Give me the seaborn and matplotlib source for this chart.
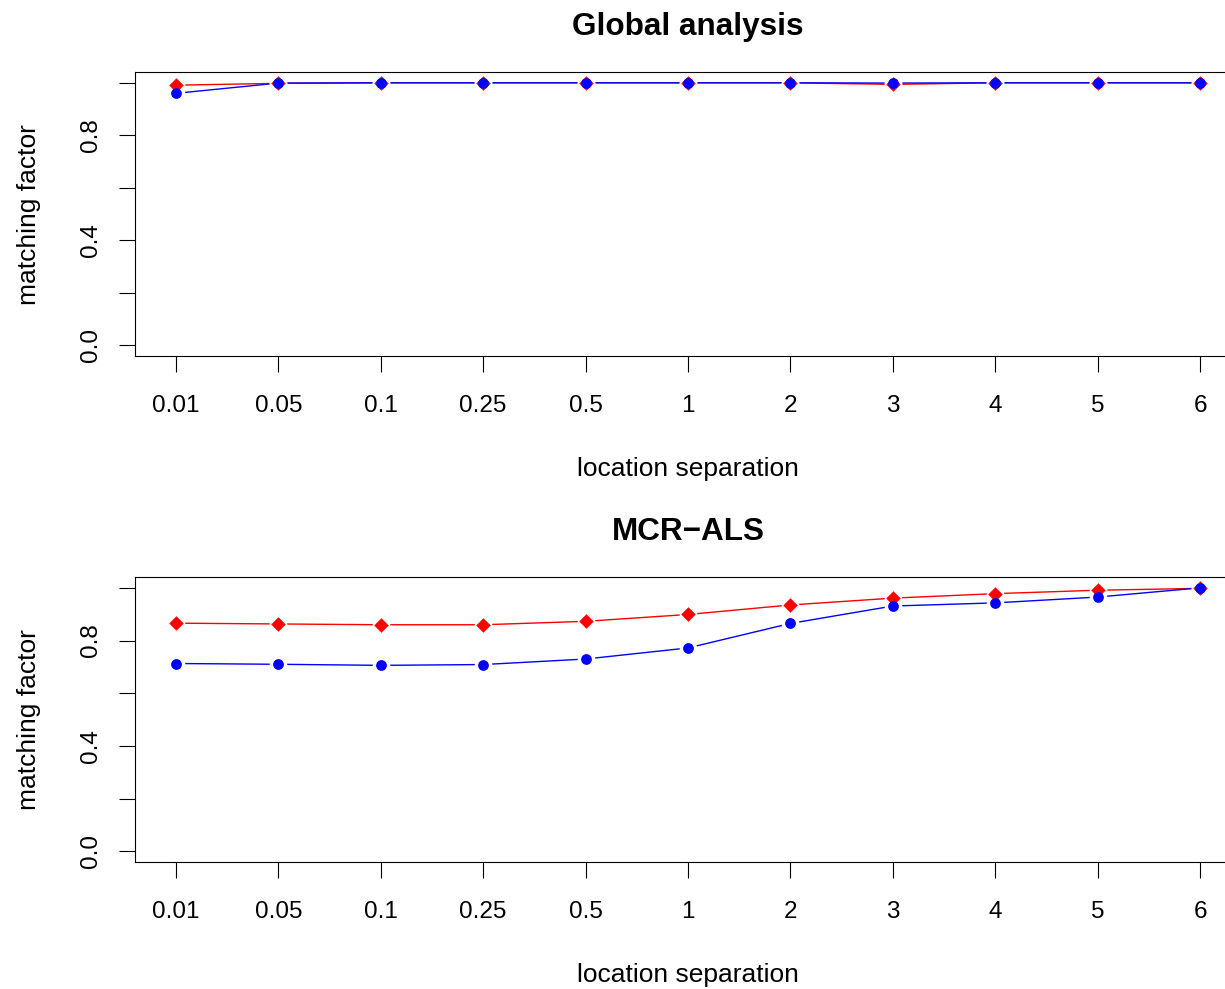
import matplotlib
matplotlib.use("Agg")
import matplotlib.pyplot as plt
import seaborn as sns
import pandas as pd

# location separations (categorical x axis)
separations = ["0.01", "0.05", "0.1", "0.25", "0.5", "1", "2", "3", "4", "5", "6"]

# matching factors, global analysis
global_red = [0.991, 0.998, 1.000, 1.000, 1.000, 1.000, 1.000, 0.994, 1.000, 1.000, 1.000]
global_blue = [0.960, 0.999, 1.000, 1.000, 1.000, 1.000, 1.000, 0.999, 1.000, 1.000, 1.000]

# matching factors, MCR-ALS
mcr_red = [0.866, 0.863, 0.860, 0.860, 0.873, 0.899, 0.935, 0.961, 0.978, 0.991, 0.998]
mcr_blue = [0.713, 0.710, 0.706, 0.709, 0.730, 0.772, 0.865, 0.931, 0.943, 0.965, 1.000]

panel_titles = ["Global analysis", "MCR\u2212ALS"]
y_ticks = [0.0, 0.2, 0.4, 0.6, 0.8, 1.0]
y_ticklabels = ["0.0", "", "0.4", "", "0.8", ""]

sns.set_theme(style="ticks")
plt.rcParams["font.family"] = ["Liberation Sans", "DejaVu Sans"]
plt.rcParams["axes.linewidth"] = 0.8
plt.rcParams["xtick.major.width"] = 0.8
plt.rcParams["ytick.major.width"] = 0.8
plt.rcParams["text.color"] = "black"
plt.rcParams["axes.labelcolor"] = "black"
plt.rcParams["axes.titlecolor"] = "black"

W, H = 1225, 989
fig = plt.figure(figsize=(W / 100, H / 100), dpi=100)

# axes boxes in pixels: left, top, right, bottom
boxes = [(135, 72.3, 1241, 356), (135, 577.3, 1241, 862)]
series = [(global_red, global_blue), (mcr_red, mcr_blue)]

for (l, t, r, b), (red, blue), title in zip(boxes, series, panel_titles):
    ax = fig.add_axes([l / W, 1 - b / H, (r - l) / W, (b - t) / H])
    df = pd.DataFrame({
        "sep": separations * 2,
        "val": red + blue,
        "method": ["red"] * len(red) + ["blue"] * len(blue),
    })
    palette = {"red": "#ff0000", "blue": "#0000ff"}
    sns.lineplot(data=df, x="sep", y="val", hue="method", palette=palette,
                 linewidth=1.0, legend=False, ax=ax, sort=False, zorder=2)
    # white halos give the broken-line look around each point
    sns.scatterplot(data=df, x="sep", y="val", color="white", s=160,
                    linewidth=0, legend=False, ax=ax, zorder=3)
    sns.scatterplot(x=separations, y=red, color="#ff0000", marker="D", s=55,
                    linewidth=0, legend=False, ax=ax, zorder=4)
    sns.scatterplot(x=separations, y=blue, color="#0000ff", marker="o", s=60,
                    linewidth=0, legend=False, ax=ax, zorder=5)

    ax.set_xlim(-0.4, 10.4)
    ax.set_ylim(-0.04, 1.04)
    ax.set_yticks(y_ticks)
    ax.set_yticklabels(y_ticklabels, rotation=90, va="center")
    ax.tick_params(axis="both", direction="out", length=11.5, labelsize=17.5,
                   colors="black")
    ax.tick_params(axis="y", pad=12)
    ax.tick_params(axis="x", pad=16.5)
    for sp in ax.spines.values():
        sp.set_visible(True)
        sp.set_color("black")
        sp.set_zorder(10)
    ax.set_title(title, fontsize=22.7, fontweight="bold", pad=27)
    ax.set_xlabel("location separation", fontsize=19, labelpad=29)
    ax.set_ylabel("matching factor", fontsize=19, labelpad=28)

fig.savefig("out.png", dpi=100, facecolor="white")
